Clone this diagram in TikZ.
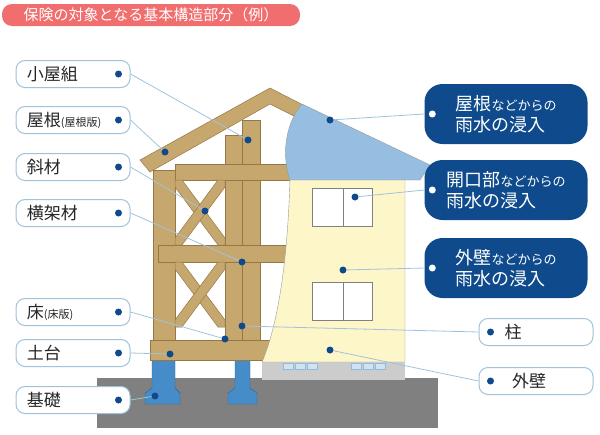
\documentclass[tikz,border=0pt]{standalone}
\usepackage{fontspec}
\setmainfont{Noto Sans CJK JP}
\usepackage{tikz}
\definecolor{wood}{RGB}{198,168,110}
\definecolor{woodline}{RGB}{150,120,70}
\definecolor{wall}{RGB}{253,246,200}
\definecolor{roofblue}{RGB}{150,190,225}
\definecolor{navy}{RGB}{15,75,140}
\definecolor{pier}{RGB}{70,140,200}
\definecolor{lead}{RGB}{160,195,220}
\definecolor{titlepink}{RGB}{240,110,110}
\tikzset{
  woodpart/.style={fill=wood,draw=woodline,line width=0.5pt},
  tag/.style={draw=lead,line width=1pt,fill=white,rounded corners=9pt,minimum width=114pt,minimum height=27pt,inner sep=0pt,font=\fontsize{17}{17}\selectfont,text=black!85},
  risk/.style={fill=navy,rounded corners=18pt,minimum width=163pt,minimum height=60pt,text=white,font=\fontsize{18}{21}\selectfont,align=left,inner sep=0pt},
  pin/.style={circle,fill=navy,inner sep=0pt,minimum size=7pt},
  wpin/.style={circle,fill=white,inner sep=0pt,minimum size=7pt},
  leader/.style={draw=lead,line width=0.8pt}
}
\newcommand{\tagtext}[1]{\makebox[92pt][l]{#1}}
\begin{document}
\begin{tikzpicture}[x=1pt,y=-1pt]
	\useasboundingbox (0,0) rectangle (600,434);
	% title
	\node[fill=titlepink,rounded corners=10pt,text=white,font=\fontsize{15}{15}\selectfont,minimum width=298pt,minimum height=22pt,inner sep=0pt] (title) at (151,15) {保険の対象となる基本構造部分（例）};

	% ground and foundation
	\fill[black!50] (97,378) rectangle (438,428);
	\fill[pier,draw=pier!70!black] (157,360) -- (175,360) -- (175,388) -- (180,393) -- (180,404) -- (145,404) -- (145,393) -- (152,388) -- (152,360) -- cycle;
	\fill[pier,draw=pier!70!black] (235,360) -- (250,360) -- (250,388) -- (257,393) -- (257,404) -- (228,404) -- (228,393) -- (235,388) -- cycle;

	% timber frame
	\draw[woodpart] (153,170) rectangle (175,360);
	\draw[woodpart] (225,135) rectangle (242,345);
	\draw[woodpart] (242,120) rectangle (260,345);
	\draw[woodpart] (158,245) rectangle (290,262);
	\draw[woodpart] (175,164) rectangle (295,180);
	\foreach \by in {180,262}{
		\draw[woodpart] (175,\by) -- (182,\by) -- (225,\by+58) -- (225,\by+65) -- (218,\by+65) -- (175,\by+7) -- cycle;
		\draw[woodpart] (218,\by) -- (225,\by) -- (225,\by+7) -- (182,\by+65) -- (175,\by+65) -- (175,\by+58) -- cycle;
	}
	\draw[woodpart] (150,340) rectangle (285,360);
	\draw[woodpart] (140,160) -- (270,88) -- (305,106) -- (302,120) -- (270,104) -- (150,172) -- cycle;

	% house wall and roof
	\fill[black!20] (262,362) rectangle (405,380);
	\foreach \vx in {283,295,307,351,363,375}
		\draw[pier!60,fill=pier!25] (\vx,363) rectangle ++(10,6);
	\fill[wall,draw=black!40] (290,178) -- (405,178) -- (405,362) -- (262,362) .. controls (280,320) and (288,250) .. (290,178);
	\fill[roofblue,draw=black!40] (302,104) -- (430,165) -- (420,180) -- (290,180) .. controls (280,150) and (288,120) .. (302,104);
	\foreach \wy in {188,282}{
		\draw[black!50,fill=white] (312,\wy) rectangle (372,\wy+38);
		\draw[black!50] (343,\wy) -- (343,\wy+38);
	}

	% labels left
	\node[tag] (koyagumi) at (73,74)  {\tagtext{小屋組}};
	\node[tag] (yane)     at (73,120) {\tagtext{屋根{\fontsize{11}{11}\selectfont (屋根版)}}};
	\node[tag] (shazai)   at (73,167) {\tagtext{斜材}};
	\node[tag] (ouka)     at (73,213) {\tagtext{横架材}};
	\node[tag] (yuka)     at (73,312) {\tagtext{床{\fontsize{11}{11}\selectfont (床版)}}};
	\node[tag] (dodai)    at (73,353) {\tagtext{土台}};
	\node[tag] (kiso)     at (73,400) {\tagtext{基礎}};
	\node[tag] (hashira)  at (536,332) {\hspace*{-46pt}柱};
	\node[tag] (gaiheki)  at (536,381) {\hspace*{-14pt}外壁};

	% risks right
	\node[risk] (r1) at (506,114) {屋根{\fontsize{13}{13}\selectfont などからの}\\雨水の浸入};
	\node[risk] (r2) at (506,190) {開口部{\fontsize{13}{13}\selectfont などからの}\\雨水の浸入};
	\node[risk] (r3) at (506,268) {外壁{\fontsize{13}{13}\selectfont などからの}\\雨水の浸入};

	% dots on labels
	\foreach \n in {koyagumi,yane,shazai,ouka,yuka,dodai,kiso}
		\node[pin] (\n d) at ([xshift=-12pt]\n.east) {};
	\foreach \n in {hashira,gaiheki}
		\node[pin] (\n d) at ([xshift=12pt]\n.west) {};
	\foreach \n in {r1,r2,r3}
		\node[wpin] (\n d) at ([xshift=8pt]\n.west) {};

	% targets
	\node[pin] (tkoyagumi) at (248,140) {};
	\node[pin] (tyane)     at (165,152) {};
	\node[pin] (tshazai)   at (205,211) {};
	\node[pin] (touka)     at (242,262) {};
	\node[pin] (tyuka)     at (225,339) {};
	\node[pin] (thashira)  at (242,326) {};
	\node[pin] (tdodai)    at (170,354) {};
	\node[pin] (tkiso)     at (155,396) {};
	\node[pin] (tr1)       at (330,120) {};
	\node[pin] (tr2)       at (355,197) {};
	\node[pin] (tr3)       at (343,270) {};
	\node[pin] (tgaiheki)  at (330,350) {};

	% leaders
	\foreach \n in {koyagumi,yane,shazai,ouka,yuka,dodai,kiso}
		\draw[leader] (\n.east) -- (t\n);
	\foreach \n in {hashira,gaiheki,r1,r2,r3}
		\draw[leader] (\n.west) -- (t\n);
\end{tikzpicture}
\end{document}
